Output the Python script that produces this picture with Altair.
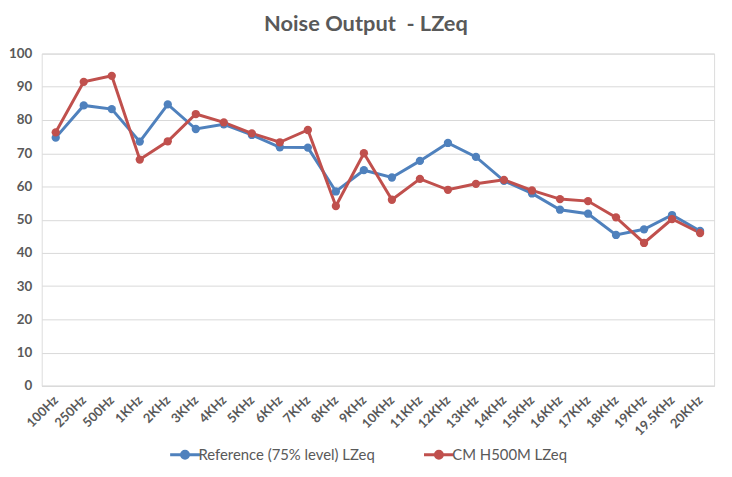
import altair as alt
import pandas as pd

freqs = ["100Hz", "250Hz", "500Hz", "1KHz", "2KHz", "3KHz", "4KHz", "5KHz", "6KHz", "7KHz",
         "8KHz", "9KHz", "10KHz", "11KHz", "12KHz", "13KHz", "14KHz", "15KHz", "16KHz",
         "17KHz", "18KHz", "19KHz", "19.5KHz", "20KHz"]
ref_vals = [74.7, 84.4, 83.3, 73.5, 84.7, 77.3, 78.7, 75.5, 71.8, 71.7,
            58.5, 64.9, 62.7, 67.7, 73.1, 68.9, 61.7, 57.9, 53.0,
            51.8, 45.4, 47.1, 51.4, 46.6]
cm_vals = [76.3, 91.5, 93.3, 68.1, 73.6, 81.8, 79.3, 76.0, 73.3, 77.0,
           54.1, 70.0, 56.0, 62.3, 59.0, 60.8, 62.0, 58.8, 56.2,
           55.6, 50.7, 43.0, 50.2, 46.0]
series_names = ["Reference (75% level) LZeq", "CM H500M LZeq"]
colors = ["#4F81BD", "#C0504D"]

rows = []
for i, f in enumerate(freqs):
    rows.append({"freq": f, "series": series_names[0], "value": ref_vals[i], "ord": i})
    rows.append({"freq": f, "series": series_names[1], "value": cm_vals[i], "ord": i})
df = pd.DataFrame(rows)

txt = "#595959"
font = "Lato"
legend_path = ("M-1.5,0H-0.35M0.35,0H1.5"
               "M-0.35,0A0.35,0.35,0,1,1,0.35,0A0.35,0.35,0,1,1,-0.35,0Z")

color = alt.Color(
    "series:N",
    scale=alt.Scale(domain=series_names, range=colors),
    legend=alt.Legend(
        title=None, orient="none", direction="horizontal",
        legendX=133, legendY=393,
        symbolType=legend_path, symbolSize=400, symbolStrokeWidth=3,
        labelFont=font, labelFontSize=15, labelColor=txt, labelLimit=400,
        columnPadding=42, labelOffset=2,
    ),
)

base = alt.Chart(df).encode(
    x=alt.X("freq:N", sort=freqs, title=None,
            scale=alt.Scale(type="point", padding=0.5),
            axis=alt.Axis(labelAngle=-45, labelFont=font, labelFontSize=13,
                          labelFontWeight="bold", labelColor=txt, ticks=False,
                          domainColor="#d9d9d9", domainWidth=1, labelPadding=12,
                          labelAlign="right", labelBaseline="middle")),
    y=alt.Y("value:Q", title=None,
            scale=alt.Scale(domain=[0, 100]),
            axis=alt.Axis(values=list(range(0, 101, 10)), labelFont=font,
                          labelFontSize=13.5, labelFontWeight="bold", labelColor=txt,
                          ticks=False, domain=False, gridColor="#d9d9d9",
                          labelPadding=10)),
    color=color,
    order=alt.Order("ord:Q"),
)

lines = base.mark_line(strokeWidth=3)
points = base.mark_point(filled=True, size=70, opacity=1)

chart = (lines + points).properties(
    width=678, height=335,
    autosize=alt.AutoSizeParams(type="none"),
    padding={"left": 34, "top": 44, "right": 10, "bottom": 90},
    title=alt.Title("Noise Output\u00a0 - LZeq", font=font, fontSize=22,
                    fontWeight="bold", color=txt, offset=11, dx=-12),
).configure_view(stroke=None).configure(background="white")

chart.save("out.html", embed_options={"renderer": "svg", "actions": False})
